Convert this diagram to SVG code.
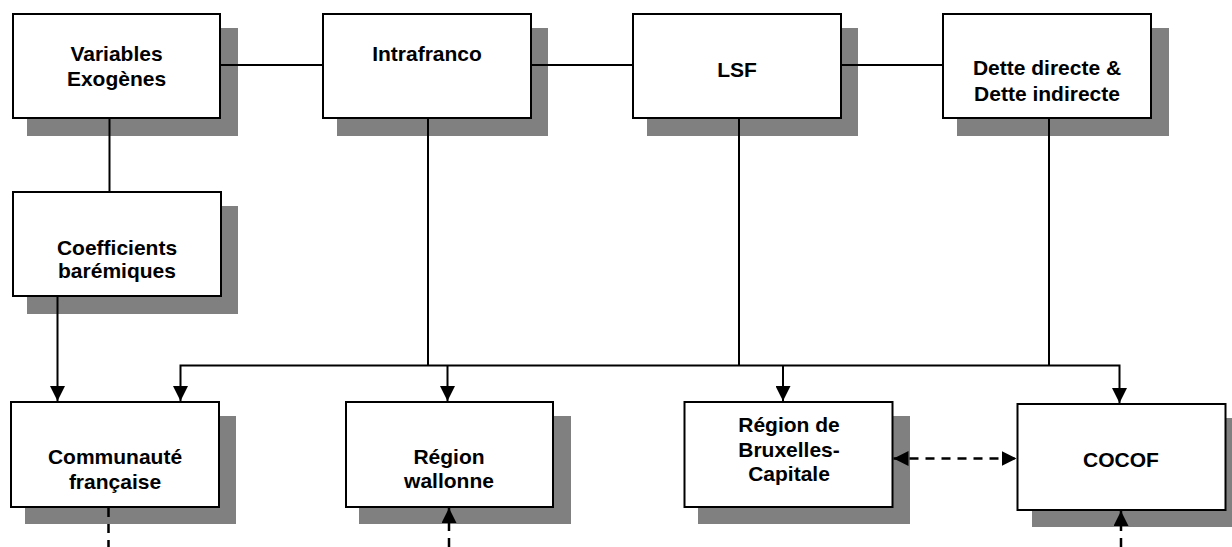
<svg xmlns="http://www.w3.org/2000/svg" width="1232" height="547" viewBox="0 0 1232 547">
  <style>
    .shadow { fill: #808080; stroke: none; }
    .box { fill: #ffffff; stroke: #000000; stroke-width: 2; }
    .lbl { font-family: "Liberation Sans", Arial, sans-serif; font-weight: bold; font-size: 21px; fill: #000000; text-anchor: middle; }
    .line { fill: none; stroke: #000000; stroke-width: 2; }
    .dash { fill: none; stroke: #000000; stroke-width: 2.5; stroke-dasharray: 9 7; }
  </style>
  <defs>
    <marker id="arrow" markerUnits="userSpaceOnUse" viewBox="0 0 15 15" markerWidth="15" markerHeight="15" refX="15" refY="7.5" orient="auto-start-reverse">
      <path d="M0,0 L15,7.5 L0,15 Z" fill="#000000" stroke="none"/>
    </marker>
  </defs>

  <g id="variables-exogenes">
    <rect class="shadow" x="27" y="28" width="211" height="108"/>
    <rect class="box" x="13" y="14" width="207" height="104"/>
    <text class="lbl" x="116.5" y="61">Variables</text>
    <text class="lbl" x="116.5" y="86">Exogènes</text>
  </g>

  <g id="intrafranco">
    <rect class="shadow" x="337" y="28" width="211" height="108"/>
    <rect class="box" x="323" y="14" width="208" height="104"/>
    <text class="lbl" x="427" y="61">Intrafranco</text>
  </g>

  <g id="lsf">
    <rect class="shadow" x="647" y="28" width="211" height="108"/>
    <rect class="box" x="633" y="14" width="208" height="104"/>
    <text class="lbl" x="737" y="77">LSF</text>
  </g>

  <g id="dette">
    <rect class="shadow" x="957" y="28" width="212" height="108"/>
    <rect class="box" x="943" y="14" width="208" height="104"/>
    <text class="lbl" x="1047" y="75">Dette directe &amp;</text>
    <text class="lbl" x="1047" y="100.5">Dette indirecte</text>
  </g>

  <g id="coefficients-baremiques">
    <rect class="shadow" x="27" y="206" width="211" height="108"/>
    <rect class="box" x="13" y="192" width="208" height="104"/>
    <text class="lbl" x="117" y="255">Coefficients</text>
    <text class="lbl" x="117" y="278">barémiques</text>
  </g>

  <g id="communaute-francaise">
    <rect class="shadow" x="25" y="416" width="211" height="108"/>
    <rect class="box" x="11" y="402" width="208" height="105"/>
    <text class="lbl" x="115" y="464">Communauté</text>
    <text class="lbl" x="115" y="489">française</text>
  </g>

  <g id="region-wallonne">
    <rect class="shadow" x="359" y="416" width="212" height="108"/>
    <rect class="box" x="346" y="402" width="207" height="105"/>
    <text class="lbl" x="449" y="464">Région</text>
    <text class="lbl" x="449" y="488">wallonne</text>
  </g>

  <g id="region-bruxelles-capitale">
    <rect class="shadow" x="698" y="416" width="212" height="108"/>
    <rect class="box" x="684.5" y="402" width="208" height="105"/>
    <text class="lbl" x="789" y="432">Région de</text>
    <text class="lbl" x="789" y="456.5">Bruxelles-</text>
    <text class="lbl" x="789" y="480.5">Capitale</text>
  </g>

  <g id="cocof">
    <rect class="shadow" x="1032" y="418" width="200" height="109"/>
    <rect class="box" x="1017.5" y="404" width="208" height="106"/>
    <text class="lbl" x="1121" y="467">COCOF</text>
  </g>

  <g id="connectors">
    <line class="line" x1="220" y1="65" x2="323" y2="65"/>
    <line class="line" x1="531" y1="65" x2="633" y2="65"/>
    <line class="line" x1="841" y1="65" x2="943" y2="65"/>
    <line class="line" x1="109.5" y1="118" x2="109.5" y2="192"/>
    <line class="line" x1="57.5" y1="296" x2="57.5" y2="401" marker-end="url(#arrow)"/>
    <line class="line" x1="428" y1="118" x2="428" y2="365"/>
    <line class="line" x1="739" y1="118" x2="739" y2="365"/>
    <line class="line" x1="1049" y1="118" x2="1049" y2="365"/>
    <path class="line" d="M180.5,401 V365.5 H1119.5 V403" marker-start="url(#arrow)" marker-end="url(#arrow)"/>
    <line class="line" x1="447.5" y1="365.5" x2="447.5" y2="401" marker-end="url(#arrow)"/>
    <line class="line" x1="783" y1="365.5" x2="783" y2="401" marker-end="url(#arrow)"/>
    <line class="dash" x1="893.5" y1="458.5" x2="1016.5" y2="458.5" marker-start="url(#arrow)" marker-end="url(#arrow)"/>
    <line class="dash" x1="108.5" y1="508" x2="108.5" y2="547"/>
    <line class="dash" x1="449" y1="547" x2="449" y2="508" marker-end="url(#arrow)"/>
    <line class="dash" x1="1121" y1="547" x2="1121" y2="511" marker-end="url(#arrow)"/>
  </g>
</svg>
